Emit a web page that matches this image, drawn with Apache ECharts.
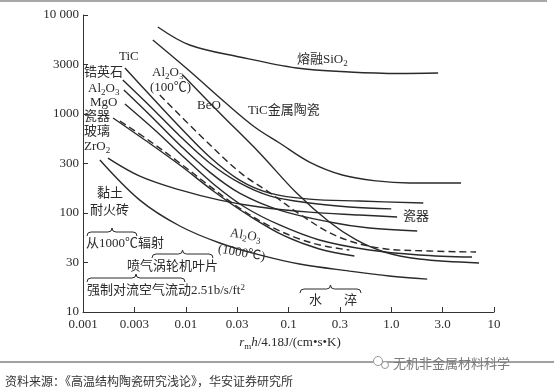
<!DOCTYPE html>
<html>
<head>
<meta charset="utf-8">
<script src="https://cdn.jsdelivr.net/npm/echarts@6/dist/echarts.min.js"></script>
<style>
html,body{margin:0;padding:0;background:#fff;}
#chart{width:554px;height:390px;}
</style>
</head>
<body>
<div id="chart"></div>
<script>
// ---- tick labels ----
const xTickLabels = ['0.001','0.003','0.01','0.03','0.1','0.3','1.0','3.0','10'];
const yTickLabels = ['10','30','100','300','1000','3000','10 000'];

// ---- curves (x = r_m h, y = thermal-shock parameter) ----
const sio2X = [0.00535,0.0109,0.0334,0.12,0.391,1.2,2.86];
const sio2Y = [7570,4980,3770,2915,2657,2566,2595];

const cermetX = [0.00478,0.0109,0.0239,0.0468,0.0818,0.160,0.334,0.715,1.50,4.78];
const cermetY = [5590,2718,1321,739,509,327,242,211,201,201];

const beoX = [0.00935,0.0214,0.0523,0.120,0.250,0.457,0.855,1.87,7.15];
const beoY = [2477,1023,404,159,81.1,53.4,40.4,34.3,31.3];

const al100X = [0.00559,0.0137,0.0334,0.0684,0.128,0.292,0.764,2.34,6.69];
const al100Y = [1556,614,259,156,97.7,58.6,44.3,41.3,40.4];

const ticX = [0.00256,0.00447,0.00875,0.0171,0.0334,0.0654,0.160,0.489,2.05];
const ticY = [2915,1556,739,368,215,159,138,132,126];

const zirconX = [0.00244,0.00447,0.00875,0.0171,0.0334,0.0654,0.160,0.391,1.0];
const zirconY = [2205,1205,600,320,201,149,126,115,110];

const al2o3X = [0.0025,0.00447,0.00875,0.0171,0.0334,0.0818,0.250,0.611,1.79];
const al2o3Y = [1747,977,486,259,159,107,81.1,70.5,65.8];

const mgoX = [0.00256,0.0050,0.00977,0.0191,0.0374,0.0818,0.200,0.611,1.87,6.11];
const mgoY = [1262,689,359,192,115,75.7,53.4,42.3,37.7,35.9];

const porcelainX = [0.00196,0.0040,0.00875,0.0191,0.0418,0.0914,0.200,0.438];
const porcelainY = [912,546,305,163,93.3,58.6,43.3,36.8];

const glassX = [0.00229,0.00447,0.00875,0.0171,0.0334,0.0654,0.128,0.224,0.391];
const glassY = [849,533,320,187,112,73.9,54.6,46.4,42.3];

const zro2X = [0.00175,0.00357,0.00875,0.0214,0.0523,0.160,0.489,1.14];
const zro2Y = [359,236,171,135,115,102,95.5,91.2];

const clayX = [0.00146,0.00357,0.00875,0.0214,0.0523,0.128,0.391,0.957,2.24];
const clayY = [343,135,73.9,49.8,37.7,30.5,25.9,23.1,21.5];

const curves = [
  {name:'熔融SiO2', x:sio2X, y:sio2Y, dashed:false},
  {name:'TiC金属陶瓷', x:cermetX, y:cermetY, dashed:false},
  {name:'BeO', x:beoX, y:beoY, dashed:false},
  {name:'Al2O3(100℃)', x:al100X, y:al100Y, dashed:true},
  {name:'TiC', x:ticX, y:ticY, dashed:false},
  {name:'锆英石', x:zirconX, y:zirconY, dashed:false},
  {name:'Al2O3', x:al2o3X, y:al2o3Y, dashed:false},
  {name:'MgO', x:mgoX, y:mgoY, dashed:false},
  {name:'瓷器', x:porcelainX, y:porcelainY, dashed:false},
  {name:'玻璃', x:glassX, y:glassY, dashed:true},
  {name:'ZrO2', x:zro2X, y:zro2Y, dashed:false},
  {name:'黏土耐火砖', x:clayX, y:clayY, dashed:false}
];

const FONT = '"Liberation Serif","Noto Sans CJK SC",serif';
const INK = '#2a2a2a';

const series = curves.map(c => ({
  type:'line', name:c.name, smooth:0.35, symbol:'none', silent:true,
  lineStyle:{color:INK, width:1.4, type:c.dashed ? [7,4] : 'solid'},
  data:c.x.map((v,i)=>[v,c.y[i]])
}));

const richBase = {
  a:{fontSize:13, fontFamily:FONT, color:INK, lineHeight:16},
  s:{fontSize:9, fontFamily:FONT, color:INK, lineHeight:16, verticalAlign:'bottom', padding:[6,0,0,0]},
  p:{fontSize:9, fontFamily:FONT, color:INK, lineHeight:16, verticalAlign:'top', padding:[0,0,6,0]},
  i:{fontSize:13, fontFamily:FONT, color:INK, fontStyle:'italic', lineHeight:16}
};
function T(x, y, text, extra){
  extra = extra || {};
  return {
    type:'text', x:x, y:y, silent:true, rotation:extra.rotation||0,
    style:Object.assign({text:text, fill:INK, font:'13px '+FONT, verticalAlign:'middle', align:'left', rich:richBase}, extra.style||{})
  };
}
function brace(x1, x2, y){
  const xm = (x1+x2)/2, h=4;
  const st = {stroke:INK, fill:null, lineWidth:1};
  const bz = (ax,ay,bx,by,cx,cy) => ({type:'bezierCurve', silent:true, shape:{x1:ax,y1:ay,x2:bx,y2:by,cpx1:cx,cpy1:cy}, style:st});
  const ln = (ax,ay,bx,by) => ({type:'line', silent:true, shape:{x1:ax,y1:ay,x2:bx,y2:by}, style:st});
  return {type:'group', silent:true, children:[
    bz(x1,y+h, x1+h,y, x1,y),
    ln(x1+h,y, xm-h,y),
    bz(xm-h,y, xm,y-h, xm,y),
    bz(xm,y-h, xm+h,y, xm,y),
    ln(xm+h,y, x2-h,y),
    bz(x2-h,y, x2,y+h, x2,y)
  ]};
}

const graphics = [
  {type:'line', silent:true, shape:{x1:0,y1:1,x2:547,y2:1}, style:{stroke:'#a8a8a8', lineWidth:2}},
  T(297,60,'{a|熔融SiO}{s|2}'),
  T(248,111,'TiC金属陶瓷'),
  T(197,106,'BeO'),
  T(152,73,'{a|Al}{s|2}{a|O}{s|3}'),
  T(150,88,'(100℃)'),
  T(119,57,'TiC'),
  T(84,73,'锆英石'),
  T(88,89,'{a|Al}{s|2}{a|O}{s|3}'),
  T(90,103,'MgO'),
  T(84,117,'瓷器'),
  T(84,132,'玻璃'),
  T(84,147,'{a|ZrO}{s|2}'),
  T(97,194,'黏土'),
  T(90,211,'耐火砖'),
  brace(87,137,232),
  T(86,244,'从1000℃辐射'),
  brace(152,213,254),
  T(127,267,'喷气涡轮机叶片'),
  brace(87,185,278),
  T(87,291,'{a|强制对流空气流动2.51b/s/ft}{p|2}'),
  T(230,233,'{a|Al}{s|2}{a|O}{s|3}', {rotation:-0.17}),
  T(218,249,'(1000℃)', {rotation:-0.17}),
  T(403,217,'瓷器'),
  brace(300,361,289),
  T(309,301,'水'),
  T(344,301,'淬'),
  T(290,343,'{i|r}{s|m}{i|h}{a|/4.18J/(cm•s•K)}', {style:{align:'center'}}),
  {type:'line', silent:true, shape:{x1:0,y1:362,x2:554,y2:362}, style:{stroke:'#444', lineWidth:1}},
  {type:'circle', silent:true, shape:{cx:378,cy:361,r:4.5}, style:{stroke:'#999', fill:'#fff', lineWidth:1}},
  {type:'circle', silent:true, shape:{cx:385,cy:365,r:3.5}, style:{stroke:'#999', fill:'#fff', lineWidth:1}},
  T(393,363,'无机非金属材料科学', {style:{font:'13px "Noto Sans CJK SC"', fill:'#7a7a7a'}}),
  T(5,381,'资料来源：《高温结构陶瓷研究浅论》，华安证券研究所', {style:{font:'12px "Noto Sans CJK SC"', fill:'#333'}})
];

const chart = echarts.init(document.getElementById('chart'), null, {renderer:'canvas'});
chart.setOption({
  animation:false,
  backgroundColor:'#fff',
  grid:{left:83, right:60, top:15, bottom:78, containLabel:false},
  xAxis:{
    type:'log', logBase:10, min:0.001, max:10, interval:0.5,
    axisLine:{show:true, lineStyle:{color:'#333', width:1}},
    axisTick:{show:true, inside:true, length:5, lineStyle:{color:'#333'}},
    axisLabel:{margin:6, color:INK, fontSize:13, fontFamily:FONT,
      formatter:v => { const i = Math.round((Math.log10(v)+3)*2); return xTickLabels[i] ?? ''; }},
    splitLine:{show:false}, minorTick:{show:false}
  },
  yAxis:{
    type:'log', logBase:10, min:10, max:10000, interval:0.5,
    axisLine:{show:true, lineStyle:{color:'#333', width:1}},
    axisTick:{show:true, inside:true, length:5, lineStyle:{color:'#333'}},
    axisLabel:{margin:4, color:INK, fontSize:13, fontFamily:FONT,
      formatter:v => { const i = Math.round((Math.log10(v)-1)*2); return yTickLabels[i] ?? ''; }},
    splitLine:{show:false}
  },
  series:series,
  graphic:graphics
});
</script>
</body>
</html>
